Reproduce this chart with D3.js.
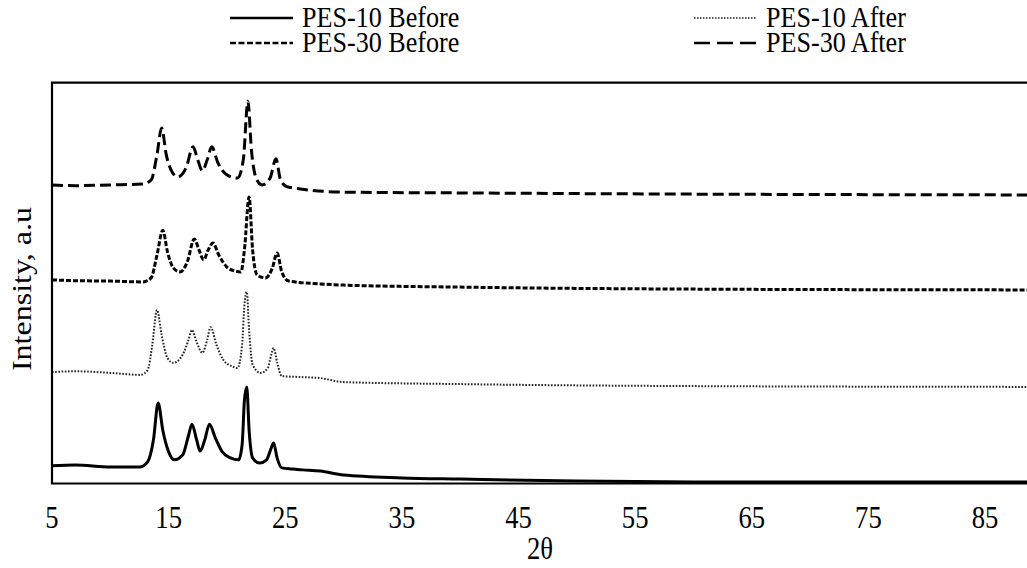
<!DOCTYPE html>
<html>
<head>
<meta charset="utf-8">
<script src="https://cdn.jsdelivr.net/npm/d3@7/dist/d3.min.js"></script>
<style>
  html, body { margin: 0; padding: 0; background: #fff; }
  svg { display: block; }
  text { font-family: "Liberation Serif", "Times New Roman", serif; fill: #000; }
</style>
</head>
<body>
<svg id="chart" width="1027" height="568"></svg>
<script>
// ---- data (2θ, intensity in arbitrary units, stacked offsets included) ----
const seriesNames = ["PES-10 Before", "PES-10 After", "PES-30 Before", "PES-30 After"];

const pes10BeforeX = [5, 7, 10, 12.5, 13.2, 13.7, 14.1, 14.5, 15.0, 15.5, 16.2, 16.7, 17.0, 17.4, 17.7, 18.1, 18.5, 19.0, 19.6, 20.3, 21.0, 21.3, 21.5, 21.7, 21.9, 22.2, 22.8, 23.4, 23.8, 24.0, 24.3, 24.7, 25.6, 26.5, 28, 30, 35, 40, 50, 60, 70, 89];
const pes10BeforeY = [4.4, 4.6, 4.1, 4.1, 5.4, 10.9, 20.1, 13.3, 7.9, 5.9, 7.1, 11.9, 14.8, 10.9, 8.1, 10.9, 14.8, 11.4, 7.9, 6.4, 5.9, 9.6, 20.8, 24.1, 13.3, 6.4, 5.1, 5.9, 8.9, 10.1, 6.4, 3.9, 3.6, 3.4, 3.1, 2.1, 1.4, 1.1, 0.6, 0.4, 0.4, 0.4];

const pes10AfterX = [5, 7, 10, 12.6, 13.2, 13.6, 14.0, 14.4, 14.9, 15.4, 16.2, 16.7, 17.0, 17.4, 17.9, 18.3, 18.6, 19.1, 19.7, 20.4, 20.9, 21.3, 21.5, 21.7, 21.9, 22.2, 22.9, 23.5, 23.8, 24.0, 24.3, 24.7, 26, 28, 30, 40, 60, 89];
const pes10AfterY = [27.8, 28.0, 27.6, 27.1, 28.3, 34.6, 43.3, 37.1, 31.3, 30.1, 32.1, 35.8, 38.3, 35.3, 32.6, 35.8, 39.0, 34.6, 30.8, 29.3, 28.8, 34.6, 44.5, 47.8, 38.3, 29.6, 27.6, 28.8, 32.1, 33.8, 30.3, 26.8, 26.6, 26.3, 25.3, 24.8, 24.3, 24.1];

const pes30BeforeX = [5, 7, 10, 12.8, 13.5, 14.0, 14.5, 14.9, 15.4, 16.0, 16.6, 17.2, 17.6, 18.0, 18.4, 18.8, 19.3, 20.0, 20.7, 21.2, 21.5, 21.9, 22.2, 22.6, 23.3, 23.9, 24.3, 24.7, 25.3, 28, 30, 40, 60, 89];
const pes30BeforeY = [50.8, 50.6, 50.5, 50.3, 51.3, 57.0, 63.2, 57.8, 53.8, 52.8, 55.3, 61.0, 58.3, 55.8, 58.3, 60.0, 57.0, 54.0, 53.0, 52.8, 58.3, 71.5, 58.3, 52.0, 51.3, 53.8, 57.5, 52.8, 50.5, 49.8, 49.5, 49.0, 48.5, 48.3];

const pes30AfterX = [5, 7, 10, 12.7, 13.5, 14.0, 14.4, 14.8, 15.3, 15.8, 16.5, 17.1, 17.5, 17.9, 18.3, 18.7, 19.2, 19.9, 20.9, 21.4, 21.8, 22.1, 22.5, 23.0, 23.7, 24.2, 24.6, 25.2, 30, 40, 60, 89];
const pes30AfterY = [74.5, 74.3, 74.5, 74.7, 75.7, 82.0, 88.7, 82.0, 77.7, 76.5, 78.8, 84.0, 80.7, 78.0, 80.7, 84.0, 80.2, 77.2, 76.2, 80.7, 95.4, 83.2, 76.2, 74.5, 76.2, 81.0, 75.7, 74.0, 72.7, 72.5, 72.2, 72.0];

const xTicks = [5, 15, 25, 35, 45, 55, 65, 75, 85];
const xLabel = "2θ";
const yLabel = "Intensity, a.u";

// ---- layout ----
const svg = d3.select("#chart");
const x = d3.scaleLinear().domain([5, 88.6]).range([52, 1027]);
const y = d3.scaleLinear().domain([0, 100]).range([483.5, 82.7]);

const styles = [
  { name: seriesNames[0], xs: pes10BeforeX, ys: pes10BeforeY, width: 3, dash: null, color: "#000", legDash: null, legW: 2.5 },
  { name: seriesNames[1], xs: pes10AfterX, ys: pes10AfterY, width: 2, dash: "1.6,1.6", color: "#222", legDash: "1.5,1.5", legW: 1.6 },
  { name: seriesNames[2], xs: pes30BeforeX, ys: pes30BeforeY, width: 3, dash: "5,2", color: "#000", legDash: "6,2.5", legW: 2.5 },
  { name: seriesNames[3], xs: pes30AfterX, ys: pes30AfterY, width: 3, dash: "11,5", color: "#000", legDash: "16,7", legW: 2.5 }
];

svg.append("clipPath").attr("id", "plotclip")
  .append("rect").attr("x", 52).attr("y", 80).attr("width", 980).attr("height", 406);

const line = d3.line().x(d => x(d[0])).y(d => y(d[1])).curve(d3.curveMonotoneX);

const g = svg.append("g").attr("clip-path", "url(#plotclip)");
styles.forEach(s => {
  const pts = s.xs.map((v, i) => [v, s.ys[i]]);
  g.append("path").datum(pts)
    .attr("d", line)
    .attr("fill", "none")
    .attr("stroke", s.color)
    .attr("stroke-width", s.width)
    .attr("stroke-linejoin", "round")
    .attr("stroke-dasharray", s.dash);
});

// plot border (top, left, bottom)
svg.append("path")
  .attr("d", `M${x(88.6) + 5},${y(100)} H${x(5)} V${y(0)} H${x(88.6) + 5}`)
  .attr("fill", "none").attr("stroke", "#000").attr("stroke-width", 2.2);

// condensed serif text helper
function ctext(px, py, str, size, anchor, rot, sx, sy) {
  const t = svg.append("g").attr("transform",
    `translate(${px},${py})${rot ? " rotate(" + rot + ")" : ""} scale(${sx},${sy})`);
  t.append("text").attr("x", 0).attr("y", 0)
    .attr("font-size", size).attr("text-anchor", anchor).text(str);
}

// x tick labels
xTicks.forEach(v => ctext(x(v), 528, String(v), 31, "middle", 0, 0.86, 1));

// axis titles
ctext(540, 559, xLabel, 31, "middle", 0, 0.86, 1);
ctext(31, 289, yLabel, 32, "middle", -90, 1, 0.84);

// legend
const legend = [
  { s: styles[0], lx: 230, ly: 18 },
  { s: styles[1], lx: 694, ly: 18 },
  { s: styles[2], lx: 230, ly: 43 },
  { s: styles[3], lx: 694, ly: 43 }
];
legend.forEach(l => {
  svg.append("line")
    .attr("x1", l.lx).attr("x2", l.lx + 63).attr("y1", l.ly).attr("y2", l.ly)
    .attr("stroke", l.s.color).attr("stroke-width", l.s.legW)
    .attr("stroke-dasharray", l.s.legDash);
  ctext(l.lx + 72, l.ly + 9, l.s.name, 30, "start", 0, 0.87, 1);
});
</script>
</body>
</html>
